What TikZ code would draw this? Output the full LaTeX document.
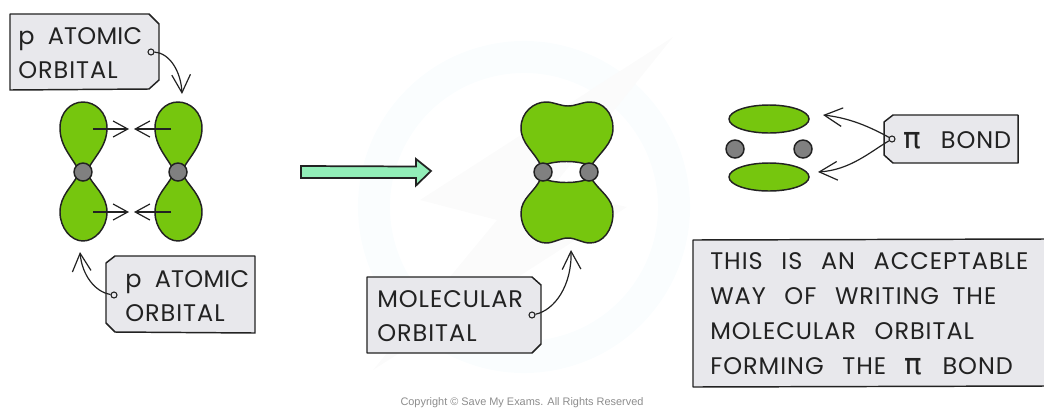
\documentclass[tikz,border=0pt]{standalone}
\usepackage{fontspec}
\setmainfont[LetterSpace=4]{Poppins}
\newfontfamily\pifont{DejaVu Sans}
\newfontfamily\copyfont{Liberation Sans}
\usetikzlibrary{arrows.meta}
\definecolor{lobegreen}{HTML}{76C60E}
\definecolor{nucgray}{HTML}{808080}
\definecolor{tagfill}{HTML}{E8E8EC}
\definecolor{shiftgreen}{HTML}{92EEB8}
\definecolor{markblue}{HTML}{FAFDFE}
\definecolor{markgray}{HTML}{FBFBFB}
\definecolor{inkline}{HTML}{222222}
\newcommand{\pisym}{{\pifont\fontsize{22}{24}\selectfont π}}
\newcommand{\wgap}{\hspace{14pt}}
\newcommand{\atomword}{{\addfontfeature{LetterSpace=1}ATOMIC}}
\tikzset{
  lobe/.style={draw=inkline,fill=lobegreen,line width=1.1pt},
  nucleus/.style={circle,draw=inkline,fill=nucgray,line width=1.1pt,inner sep=0pt,minimum size=13.5pt},
  tag/.style={draw=inkline,fill=tagfill,line width=1.1pt,line join=round},
  hole/.style={circle,draw=inkline,fill=tagfill,line width=.8pt,inner sep=0pt,minimum size=4.5pt},
  tagtext/.style={anchor=west,align=left,inner sep=0pt,text=inkline,font=\fontsize{18}{25.5}\selectfont},
  pointer/.style={draw=inkline,line width=.9pt,-{Straight Barb[length=11pt,width=12pt]}},
  longpointer/.style={draw=inkline,line width=.9pt,-{Straight Barb[length=13.5pt,width=14pt]}},
}
\begin{document}
\begin{tikzpicture}[x=.75pt,y=-.75pt]
    \useasboundingbox (0,0) rectangle (1044,408);
    % faint mark behind everything
    \draw[markblue,line width=24pt] (524,207) ++(75:150) arc[start angle=75,end angle=-325,radius=150]; 
    \fill[markgray] (673,37) -- (420,200) -- (497,220) -- (373,370) -- (627,207) -- (550,190) -- cycle;
    % p orbitals
    \foreach \x/\n in {83/a,178/b}{
    \draw[lobe] (\x-4,171) .. controls (\x-10,158) and (\x-23,147) .. (\x-23,128)
    .. controls (\x-23,112) and (\x-12,102) .. (\x,102)
    .. controls (\x+12,102) and (\x+24,112) .. (\x+24,128)
    .. controls (\x+24,147) and (\x+10,158) .. (\x+4,171) -- cycle;
    \draw[lobe] (\x-4,173) .. controls (\x-10,186) and (\x-23,195) .. (\x-23,212)
    .. controls (\x-23,228) and (\x-12,241) .. (\x,241)
    .. controls (\x+12,241) and (\x+24,228) .. (\x+24,212)
    .. controls (\x+24,195) and (\x+10,186) .. (\x+4,173) -- cycle;
    \node[nucleus] (nuc\n) at (\x,172) {};
    }
    \foreach \y in {129,212}{
    \coordinate (la\y) at (93,\y); \coordinate (lb\y) at (129,\y);
    \coordinate (ra\y) at (171,\y); \coordinate (rb\y) at (134,\y);
    \draw[pointer] (la\y) -- (lb\y);
    \draw[pointer] (ra\y) -- (rb\y);
    }
    % overlap arrow
    \draw[fill=shiftgreen,draw=inkline,line width=1.3pt,line join=miter]
    (301,166) -- (416,166.5) -- (416,159) -- (431,171) -- (416,185.5) -- (416,178) -- (301,178) -- cycle;
    % molecular orbital
    \draw[lobe] (541,166) .. controls (535,152) and (521,144) .. (521,128)
    .. controls (521,112) and (534,102) .. (546,102)
    .. controls (554,102) and (560,106) .. (568,106)
    .. controls (576,106) and (582,102) .. (590,102)
    .. controls (603,102) and (613,113) .. (613,128)
    .. controls (613,144) and (600,152) .. (591,166)
    .. controls (578,160) and (555,160) .. (541,166) -- cycle;
    \draw[lobe] (541,178) .. controls (535,192) and (521,198) .. (521,213)
    .. controls (521,230) and (534,243) .. (546,243)
    .. controls (554,243) and (560,238) .. (568,238)
    .. controls (576,238) and (582,243) .. (590,243)
    .. controls (603,243) and (613,230) .. (613,213)
    .. controls (613,198) and (600,192) .. (591,178)
    .. controls (578,184) and (555,184) .. (541,178) -- cycle;
    \node[nucleus] (nucc) at (543,172) {};
    \node[nucleus] (nucd) at (589,172) {};
    % pi bond
    \draw[lobe] (769,119) ellipse (40 and 14);
    \draw[lobe] (769,177) ellipse (40 and 14);
    \node[nucleus] (nuce) at (735,149) {};
    \node[nucleus] (nucf) at (803,149) {};
    % labels
    \draw[tag] (10,14) -- (149,14) -- (159,24) -- (159,80) -- (149,89) -- (10,90) -- cycle;
    \node[tagtext] (atomA) at (18,53) {p\hspace{10pt}\atomword\\ORBITAL};
    \node[hole] (holeA) at (151,52) {};
    \coordinate (endA) at (182,94);
    \draw[longpointer] (holeA) .. controls (170,53) and (181,72) .. (endA);
    \draw[tag] (115,256) -- (255,256) -- (255,333) -- (115,332) -- (106,323) -- (106,263) -- cycle;
    \node[tagtext] (atomB) at (125,296) {p\hspace{10pt}\atomword\\ORBITAL};
    \node[hole] (holeB) at (114,295) {};
    \coordinate (endB) at (80,252);
    \draw[longpointer] (holeB) .. controls (95,292) and (82,275) .. (endB);
    \draw[tag] (367,277) -- (532,277) -- (541,285) -- (541,344) -- (532,353) -- (367,353) -- cycle;
    \node[tagtext] (molec) at (377,316) {MOLECULAR\\ORBITAL};
    \node[hole] (holeC) at (532,315) {};
    \coordinate (endC) at (571,250);
    \draw[longpointer] (holeC) .. controls (555,310) and (572,285) .. (endC);
    \draw[tag] (893,115) -- (1018,115) -- (1018,163) -- (893,163) -- (884,155) -- (884,122) -- cycle;
    \node[tagtext] (bond) at (903,140) {\pisym\hspace{15pt}BOND};
    \node[hole] (holeD) at (892,139) {};
    \coordinate (endD) at (823,115);
    \coordinate (endE) at (818,172);
    \draw[longpointer] (holeD) .. controls (870,127) and (850,118) .. (endD);
    \draw[longpointer] (holeD) .. controls (870,152) and (850,170) .. (endE);
    % note
    \draw[tag] (1044,239) -- (693,240) -- (693,387) -- (1044,386);
    \node[tagtext,font=\fontsize{18}{26.2}\selectfont] (note) at (710,314) {THIS\wgap IS\wgap AN\wgap ACCEPTABLE\\WAY\wgap OF\wgap WRITING\hspace{10pt}THE\\MOLECULAR\wgap ORBITAL\\FORMING\wgap THE\wgap \pisym\hspace{15pt}BOND};
    \node[text=black!45,inner sep=0pt,font=\copyfont\fontsize{8.2}{10}\selectfont] (copy) at (522,403) {Copyright © Save My Exams. All Rights Reserved};
\end{tikzpicture}
\end{document}
